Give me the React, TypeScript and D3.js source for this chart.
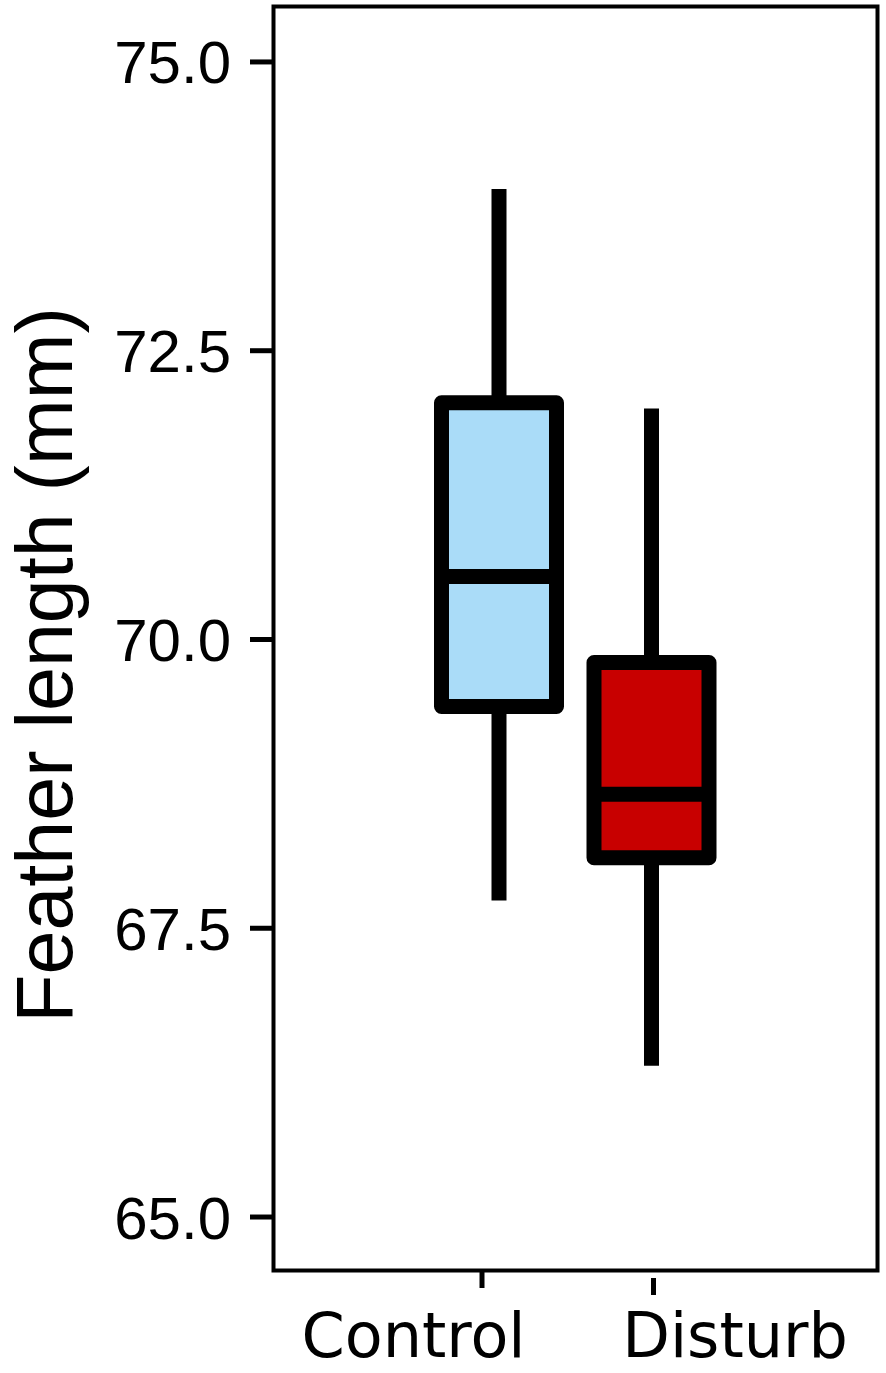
import * as d3 from "d3";

const categories = ["Control", "Disturb"];
const whiskerLow = [67.74, 66.31];
const q1 = [69.42, 68.11];
const median = [70.545, 68.66];
const q3 = [72.05, 69.8];
const whiskerHigh = [73.9, 72.0];
const yTicks = [65, 67.5, 70, 72.5, 75];
const fills = ["#aadcf8", "#c80000"];

const W = 886;
const H = 1373;
const PLOT = { left: 273.5, right: 877.5, top: 6.5, bottom: 1270.5 };
const BOX_W = 115;
const STROKE = 15;

export default function App() {
    const y = d3.scaleLinear().domain([64.537, 75.48]).range([PLOT.bottom, PLOT.top]);
    const x = d3.scalePoint<string>().domain(categories).range([499, 651.5]);
    // the x ticks and labels in the figure sit off the box centres
    const tickOffset = [-17, 2];
    const labelOffset = [-85.5, 83.5];
    const tickTop = [PLOT.bottom, 1278];
    const tickBottom = [1288, 1295];

    return (
        <svg
            width={W}
            height={H}
            style={{ position: "absolute", left: 0, top: 0, background: "#fff" }}
        >
            {/* y axis ticks */}
            {yTicks.map(t => (
                <g key={t}>
                    <line x1={250} x2={PLOT.left} y1={y(t)} y2={y(t)} stroke="#000" strokeWidth={5} />
                    <text
                        x={231}
                        y={y(t)}
                        dy="0.358em"
                        textAnchor="end"
                        fontFamily="Liberation Sans, Arial, sans-serif"
                        fontSize={60}
                        fill="#000"
                    >
                        {t.toFixed(1)}
                    </text>
                </g>
            ))}

            <text
                transform={`translate(72, 665) rotate(-90)`}
                textAnchor="middle"
                fontFamily="Liberation Sans, Arial, sans-serif"
                fontSize={79}
                fill="#000"
            >
                Feather length (mm)
            </text>

            {/* boxes */}
            {categories.map((c, i) => {
                const cx = x(c)!;
                return (
                    <g key={c}>
                        <line x1={cx} x2={cx} y1={y(whiskerHigh[i])} y2={y(q3[i])} stroke="#000" strokeWidth={STROKE} />
                        <line x1={cx} x2={cx} y1={y(q1[i])} y2={y(whiskerLow[i])} stroke="#000" strokeWidth={STROKE} />
                        <rect
                            x={cx - BOX_W / 2}
                            y={y(q3[i])}
                            width={BOX_W}
                            height={y(q1[i]) - y(q3[i])}
                            fill={fills[i]}
                            stroke="#000"
                            strokeWidth={STROKE}
                            strokeLinejoin="round"
                        />
                        <line
                            x1={cx - BOX_W / 2}
                            x2={cx + BOX_W / 2}
                            y1={y(median[i])}
                            y2={y(median[i])}
                            stroke="#000"
                            strokeWidth={STROKE}
                        />
                    </g>
                );
            })}

            {/* frame */}
            <rect
                x={PLOT.left}
                y={PLOT.top}
                width={PLOT.right - PLOT.left}
                height={PLOT.bottom - PLOT.top}
                fill="none"
                stroke="#000"
                strokeWidth={4}
            />

            {/* x axis */}
            {categories.map((c, i) => (
                <g key={c}>
                    <line
                        x1={x(c)! + tickOffset[i]}
                        x2={x(c)! + tickOffset[i]}
                        y1={tickTop[i]}
                        y2={tickBottom[i]}
                        stroke="#000"
                        strokeWidth={5}
                    />
                    <text
                        x={x(c)! + labelOffset[i]}
                        y={1357}
                        textAnchor="middle"
                        fontFamily="DejaVu Sans, Verdana, sans-serif"
                        fontSize={62}
                        fill="#000"
                    >
                        {c}
                    </text>
                </g>
            ))}
        </svg>
    );
}
